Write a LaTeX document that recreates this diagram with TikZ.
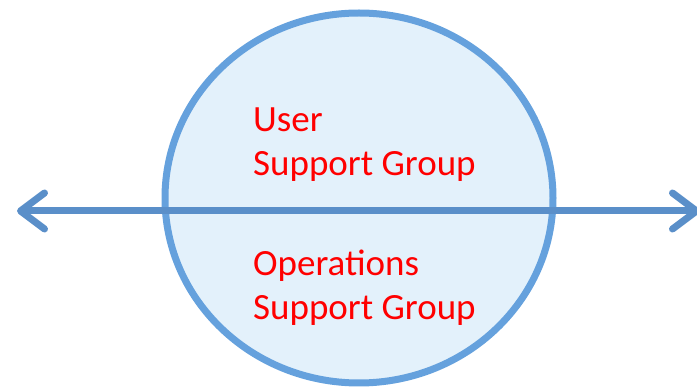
\documentclass[tikz,border=0pt]{standalone}
\usepackage{fontspec}
\setmainfont{Carlito}
\usetikzlibrary{arrows.meta}
\definecolor{ringblue}{RGB}{101,161,221}
\definecolor{lineblue}{RGB}{90,143,201}
\definecolor{fillblue}{RGB}{227,241,251}
\tikzset{
    grouptext/.style={text=red, font=\fontsize{37}{44}\selectfont, align=left, anchor=base west, inner sep=0pt},
    barb/.tip={Straight Barb[length=24pt, width=36pt, round]}
}
\begin{document}
\begin{tikzpicture}[x=1pt, y=-1pt]
    \useasboundingbox (0,0) rectangle (697,387);
    \draw[ringblue, line width=7pt, fill=fillblue] (359,198) ellipse (194 and 185);
    \coordinate (west) at (17,211);
    \coordinate (east) at (700,211);
    \draw[lineblue, line width=7pt, barb-barb] (west) -- (east);
    \node[grouptext] (user) at (253,176) {User\\Support Group};
    \node[grouptext] (ops) at (253,320) {Operations\\Support Group};
\end{tikzpicture}
\end{document}
